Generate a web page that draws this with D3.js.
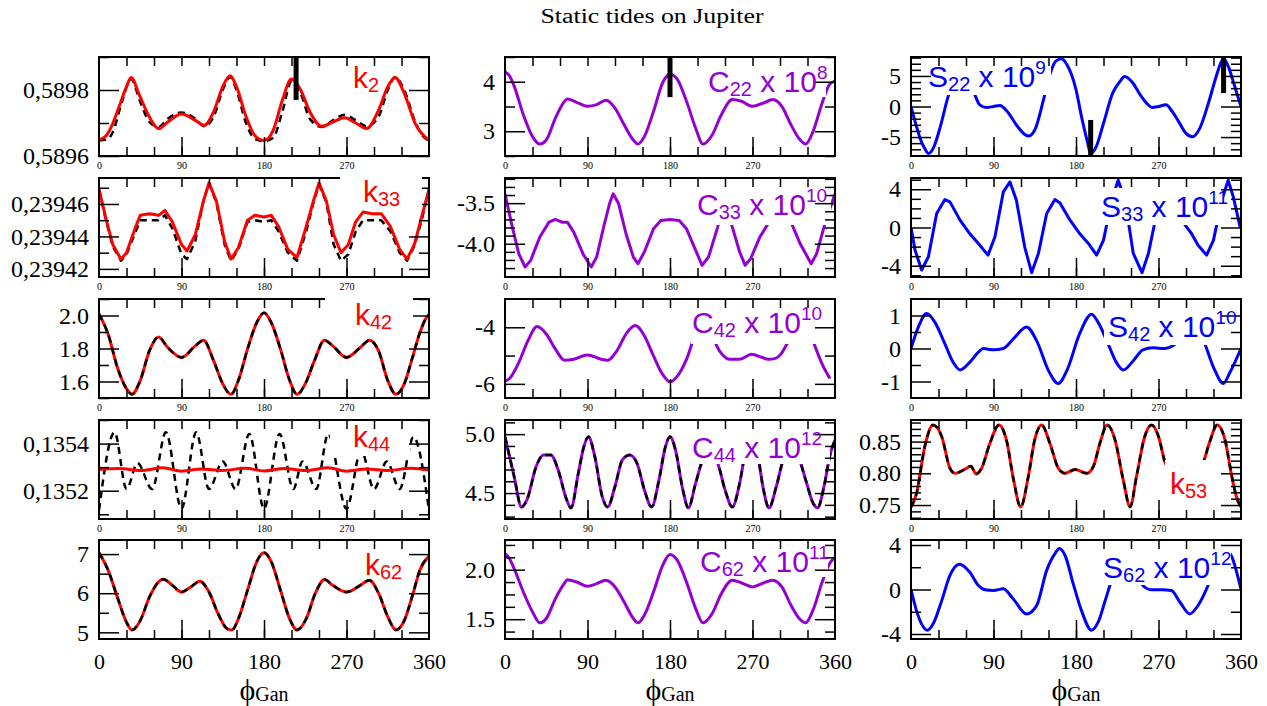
<!DOCTYPE html>
<html>
<head>
<meta charset="utf-8">
<script src="https://cdn.jsdelivr.net/npm/d3@7"></script>
<style>
  body { margin: 0; background: #fff; }
</style>
</head>
<body>
<svg width="1267" height="706"></svg>
<script>
// ---- data: [phi_Gan (deg), value] ----
const k2Model = [[0,0.589649],[8,0.589662],[15,0.589698],[22.5,0.589754],[30,0.58981],[35,0.589838],[44,0.589785],[55,0.589718],[65,0.589683],[75,0.589703],[90,0.589727],[105,0.589708],[115,0.589693],[125,0.589734],[135,0.58981],[143,0.589843],[150,0.58981],[160,0.589723],[170,0.589662],[180,0.589647],[190,0.589678],[200,0.589769],[210,0.589833],[220,0.5898],[230,0.589734],[243,0.58969],[255,0.589703],[268,0.589716],[280,0.5897],[292,0.589683],[305,0.589739],[315,0.58981],[323,0.589838],[333,0.58979],[345,0.589698],[360,0.589647]];
const k2Ref = [[0,0.589647],[10,0.589652],[15,0.589672],[25,0.589764],[35,0.589833],[45,0.589764],[55,0.589703],[65,0.589688],[75,0.589713],[90,0.589732],[105,0.589713],[115,0.58969],[125,0.589719],[135,0.5898],[143,0.589839],[150,0.5898],[160,0.589703],[170,0.589652],[180,0.589645],[190,0.589655],[200,0.589734],[210,0.589826],[220,0.58979],[230,0.589713],[243,0.589688],[255,0.589708],[268,0.589725],[280,0.589708],[292,0.58969],[305,0.589719],[315,0.5898],[323,0.589839],[333,0.5898],[345,0.589703],[352,0.589665],[360,0.589647]];
const k33Model = [[0,0.239469],[8,0.23945],[15,0.239435],[24,0.239426],[30,0.23943],[40,0.239446],[45,0.239453],[55,0.239454],[65,0.239453],[72,0.239456],[80,0.239449],[90,0.239435],[96,0.239431],[105,0.239441],[114,0.239462],[120,0.239473],[128,0.239462],[137,0.239437],[144,0.239426],[152,0.239433],[162,0.23945],[170,0.239453],[180,0.239452],[188,0.239453],[196,0.239446],[206,0.239432],[216,0.239427],[226,0.239446],[234,0.239462],[240,0.239473],[248,0.239462],[256,0.239441],[264,0.23943],[272,0.239435],[280,0.239449],[288,0.239455],[298,0.239454],[308,0.239454],[318,0.239446],[328,0.239432],[336,0.239426],[344,0.239435],[352,0.239452],[360,0.239469]];
const k33Ref = [[0,0.239469],[8,0.239449],[15,0.239434],[24,0.239425],[30,0.239429],[40,0.239443],[45,0.23945],[55,0.23945],[65,0.23945],[72,0.239453],[80,0.239445],[90,0.239429],[96,0.239426],[105,0.239437],[114,0.239462],[120,0.239473],[128,0.239461],[137,0.239435],[144,0.239425],[152,0.239432],[162,0.239449],[170,0.23945],[180,0.239449],[188,0.23945],[196,0.239443],[206,0.23943],[216,0.239425],[226,0.239443],[234,0.239461],[240,0.239472],[248,0.239461],[256,0.239435],[264,0.239425],[272,0.239429],[280,0.239443],[288,0.23945],[298,0.23945],[308,0.23945],[318,0.239443],[328,0.23943],[336,0.239425],[344,0.239434],[352,0.23945],[360,0.239469]];
const k42 = [[0,2.01],[10,1.886],[20,1.686],[30,1.556],[36,1.522],[45,1.606],[55,1.786],[65,1.87],[75,1.806],[90,1.746],[105,1.816],[114,1.85],[125,1.726],[135,1.586],[144,1.522],[152,1.606],[162,1.796],[172,1.956],[180,2.016],[188,1.956],[198,1.796],[208,1.606],[216,1.522],[225,1.586],[235,1.726],[246,1.85],[255,1.816],[270,1.746],[285,1.806],[295,1.85],[305,1.786],[315,1.606],[324,1.522],[333,1.586],[342,1.746],[350,1.896],[357,1.986],[360,2.006]];
const k44Model = [[0,0.13529],[22,0.135294],[45,0.135286],[70,0.135297],[90,0.135283],[112,0.135292],[135,0.135286],[160,0.135295],[180,0.135284],[202,0.135294],[225,0.135286],[250,0.135297],[270,0.135283],[292,0.135292],[315,0.135286],[340,0.135295],[360,0.135288]];
const k44Ref = [[0,0.135117],[17,0.135448],[30,0.135207],[42,0.135317],[58,0.135207],[73,0.135448],[90,0.135124],[106,0.135448],[120,0.135207],[135,0.135324],[149,0.135207],[164,0.135441],[180,0.135124],[197,0.135441],[212,0.135207],[222,0.135324],[237,0.135207],[250,0.135441],[270,0.135124],[286,0.135372],[300,0.135207],[314,0.135324],[328,0.135207],[343,0.135428],[360,0.135117]];
const k62 = [[0,7.034],[10,6.588],[20,5.901],[30,5.258],[36,5.06],[45,5.3],[55,5.9],[65,6.288],[70,6.356],[80,6.202],[90,6.03],[100,6.159],[110,6.305],[120,6.03],[130,5.472],[140,5.086],[145,5.06],[152,5.343],[162,6.073],[172,6.803],[180,7.034],[188,6.803],[198,6.073],[208,5.343],[216,5.06],[226,5.343],[236,6.0],[246,6.348],[255,6.202],[270,6.03],[285,6.202],[295,6.33],[305,6.0],[315,5.4],[324,5.06],[333,5.3],[342,5.944],[350,6.588],[360,6.95]];
const c22 = [[0,4.204],[5,4.116],[10,3.912],[20,3.333],[30,2.891],[38,2.741],[45,2.823],[55,3.265],[65,3.605],[68,3.653],[78,3.585],[90,3.503],[100,3.537],[110,3.626],[120,3.469],[130,3.129],[140,2.823],[145,2.741],[152,2.891],[162,3.401],[172,3.98],[180,4.15],[188,4.048],[198,3.605],[208,3.061],[216,2.741],[226,2.925],[236,3.333],[248,3.639],[258,3.605],[270,3.503],[282,3.571],[292,3.639],[302,3.503],[312,3.129],[322,2.823],[328,2.741],[336,2.993],[346,3.571],[354,3.946],[360,4.01]];
const c33 = [[0,-3.385],[8,-3.795],[15,-4.123],[22,-4.287],[28,-4.205],[38,-3.918],[48,-3.734],[55,-3.701],[62,-3.734],[68,-3.734],[75,-3.857],[85,-4.123],[94,-4.287],[100,-4.164],[108,-3.775],[114,-3.508],[118,-3.385],[124,-3.508],[132,-3.877],[140,-4.164],[145,-4.246],[152,-4.102],[162,-3.816],[170,-3.713],[180,-3.701],[190,-3.713],[198,-3.816],[208,-4.082],[215,-4.266],[222,-4.164],[232,-3.795],[240,-3.45],[248,-3.795],[256,-4.102],[262,-4.266],[268,-4.184],[278,-3.918],[288,-3.734],[300,-3.701],[312,-3.734],[322,-4.0],[334,-4.246],[340,-4.123],[350,-3.713],[360,-3.385]];
const c42 = [[0,-5.905],[5,-5.81],[15,-5.25],[25,-4.476],[35,-3.976],[45,-4.238],[55,-4.774],[65,-5.167],[75,-5.131],[90,-4.976],[105,-5.131],[112,-5.167],[122,-4.833],[132,-4.238],[142,-3.94],[152,-4.298],[162,-5.012],[172,-5.667],[180,-5.929],[188,-5.726],[198,-5.131],[208,-4.238],[218,-3.94],[226,-4.2],[231,-4.655],[238,-5.0],[245,-5.131],[256,-5.131],[269,-4.952],[280,-5.06],[287,-5.131],[295,-5.1],[301,-4.95],[306.5,-4.655],[315,-4.2],[325,-3.95],[333,-4.2],[338,-4.655],[346,-5.3],[354.5,-5.81]];
const c44 = [[0,4.978],[10,4.64],[18,4.382],[24,4.444],[34,4.725],[42,4.823],[50,4.823],[58,4.697],[66,4.472],[72,4.374],[80,4.669],[86,4.893],[91,4.978],[98,4.809],[106,4.472],[112,4.382],[120,4.556],[128,4.781],[136,4.823],[144,4.753],[152,4.528],[160,4.382],[168,4.612],[175,4.893],[180,4.978],[186,4.865],[194,4.528],[200,4.374],[208,4.584],[216,4.781],[224,4.823],[232,4.753],[240,4.528],[248,4.382],[256,4.584],[262,4.837],[269,4.978],[276,4.809],[282,4.528],[288,4.374],[296,4.556],[304,4.781],[312,4.823],[320,4.795],[328,4.612],[336,4.416],[341,4.374],[348,4.556],[355,4.837],[360,4.949]];
const c62 = [[0,2.161],[5,2.111],[10,2.01],[20,1.775],[30,1.574],[38,1.463],[45,1.507],[55,1.708],[65,1.866],[68,1.899],[78,1.876],[90,1.832],[100,1.859],[110,1.893],[120,1.826],[130,1.674],[140,1.507],[145,1.463],[152,1.54],[162,1.775],[172,2.044],[180,2.154],[188,2.094],[198,1.876],[208,1.607],[216,1.463],[226,1.557],[236,1.758],[248,1.893],[258,1.866],[270,1.826],[282,1.866],[292,1.893],[302,1.826],[312,1.641],[322,1.497],[328,1.463],[336,1.591],[346,1.876],[354,2.06],[360,2.128]];
const s22 = [[0,0],[5,-2.75],[10,-5.22],[15,-6.87],[19,-7.69],[25,-6.59],[32,-3.3],[40,1.37],[46,3.9],[53,4.95],[60,4.4],[68,2.47],[75,0.27],[82,-0.16],[90,0],[97,0.16],[105,-0.82],[115,-3.02],[125,-4.67],[128,-4.84],[135,-3.85],[145,1.37],[152,5.49],[158,7.42],[164,7.8],[170,6.87],[180,2.75],[186,-1.65],[192,-5.49],[196,-7.69],[202,-6.59],[210,-2.75],[220,2.2],[228,4.12],[233,4.9],[242,3.85],[250,1.92],[258,0.38],[263,-0.16],[270,0],[278,0.27],[285,-0.82],[292,-2.47],[300,-4.4],[307,-4.95],[315,-3.57],[325,0.82],[333,4.95],[338,7.14],[341,7.8],[346,6.59],[352,3.85],[360,0]];
const s33 = [[0,0],[4.4,-2.37],[11.6,-4.45],[19,-3.06],[28,1.46],[37,2.92],[42.5,2.68],[53.5,0.77],[64,-0.63],[73.5,-1.67],[84,-2.89],[91.6,-0.97],[100.7,3.72],[108,4.77],[115,2.85],[124,-2.02],[131.6,-4.73],[139,-2.71],[148,1.46],[157,2.92],[162.5,2.57],[173.5,0.77],[184,-0.63],[193.5,-1.67],[202.5,-2.89],[210,-1.32],[219,2.85],[226,4.94],[233.5,2.85],[242.5,-2.71],[252,-4.73],[259,-2.71],[268,1.46],[275,2.85],[284,2.5],[295,0.77],[306,-0.63],[313,-1.84],[322.5,-2.89],[330,-1.32],[339,2.85],[346,4.94],[351.6,3.2],[359,0.07],[360,0]];
const s42 = [[0,0],[8,0.65],[17,1.06],[26,0.8],[37,0.14],[46,-0.42],[53.5,-0.65],[64,-0.42],[73.5,-0.11],[79,0],[90,-0.04],[100.7,0],[111.6,0.29],[126,0.65],[137,0.24],[150,-0.67],[160.7,-1.06],[170,-0.67],[184,0.45],[197,1.04],[204,0.8],[215,0.14],[224,-0.42],[231.6,-0.65],[242.5,-0.37],[253,-0.04],[264,0.02],[277,0],[286,0.09],[296,0.42],[306.5,0.65],[313,0.5],[319,0.24],[330,-0.57],[340.7,-1.06],[348,-0.72],[360,0]];
const k53 = [[0,0.747],[6,0.768],[15,0.842],[24,0.876],[33.5,0.858],[42.5,0.808],[48,0.8],[57,0.805],[65.5,0.811],[71,0.799],[77,0.808],[86,0.847],[96,0.876],[104,0.853],[112,0.789],[119.6,0.747],[128,0.795],[135,0.853],[142.5,0.876],[151.6,0.847],[160.7,0.808],[168,0.8],[179,0.806],[191.6,0.8],[199,0.811],[206,0.847],[214,0.876],[222.5,0.853],[231.6,0.789],[239,0.747],[246,0.795],[255,0.858],[262.5,0.876],[270,0.858],[277,0.818],[284,0.801],[290,0.808],[297,0.802],[304,0.805],[312,0.8],[319,0.818],[326,0.85],[334,0.876],[342.5,0.853],[350,0.795],[355,0.763],[360,0.747]];
const s62 = [[0,0],[6,-1.9],[11.6,-3.11],[18,-3.66],[24,-3.11],[33.5,-1.0],[42.5,1.27],[52.7,2.27],[64,1.57],[73.5,0.36],[81,-0.03],[90,-0.09],[100.7,0.06],[111.6,-0.85],[126,-2.2],[137,-1.45],[148,1.72],[157,3.23],[161.8,3.69],[168,3.08],[177,0.51],[186,-1.9],[197,-3.66],[204,-2.96],[213,-0.69],[222,1.45],[234,2.2],[245,1.57],[253,0.36],[262.5,-0.03],[273.5,-0.03],[284,-0.09],[293.5,-1.15],[304,-2.2],[313,-1.45],[324,0.36],[335,2.93],[342.5,3.69],[350,2.93],[360,0]];

// thick black markers: [phi, from, to]
const k2Bars = [[215, 0.58977, 0.5899]];
const c22Bars = [[180, 3.69, 4.5]];
const s22Bars = [[196, -8.1, -2.2], [341, 2.2, 8.1]];

// ticks
const xMinorTicks = [30, 60, 90, 120, 150, 180, 210, 240, 270, 300, 330];
const xMajorTicks = [90, 180, 270];
const xSmallLabels = [0, 90, 180, 270];
const xBigLabels = [0, 90, 180, 270, 360];

const k2Ticks = [0.5896, 0.5898], k2Minor = [0.5897, 0.5899];
const k33Ticks = [0.23942, 0.23944, 0.23946], k33Minor = [0.23943, 0.23945, 0.23947];
const k42Ticks = [1.6, 1.8, 2.0], k42Minor = [1.5, 1.7, 1.9, 2.1];
const k44Ticks = [0.1352, 0.1354], k44Minor = [0.1351, 0.1353, 0.1355];
const k62Ticks = [5, 6, 7], k62Minor = [5.5, 6.5];
const c22Ticks = [3, 4], c22Minor = [2.5, 3.5, 4.5];
const c33Ticks = [-4.0, -3.5], c33Minor = [-4.4, -4.3, -4.2, -4.1, -3.9, -3.8, -3.7, -3.6, -3.4, -3.3, -3.2];
const c42Ticks = [-6, -4], c42Minor = [-5];
const c44Ticks = [4.5, 5.0], c44Minor = [4.3, 4.4, 4.6, 4.7, 4.8, 4.9, 5.1];
const c62Ticks = [1.5, 2.0], c62Minor = [1.375, 1.625, 1.75, 1.875, 2.125, 2.25];
const s22Ticks = [-5, 0, 5], s22Minor = [-8, -7, -6, -4, -3, -2, -1, 1, 2, 3, 4, 6, 7, 8];
const s33Ticks = [-4, 0, 4], s33Minor = [-5, -3, -2, -1, 1, 2, 3, 5];
const s42Ticks = [-1, 0, 1], s42Minor = [-0.5, 0.5];
const k53Ticks = [0.75, 0.80, 0.85], k53Minor = [0.73, 0.74, 0.76, 0.77, 0.78, 0.79, 0.81, 0.82, 0.83, 0.84, 0.86, 0.87, 0.88];
const s62Ticks = [-4, 0, 4], s62Minor = [-2, 2];

// ---- layout ----
const colLeft = [99, 505, 911];
const rowTop = [57, 178, 299, 420, 540];
const plotW = 330, plotH = 99;
const SERIF = "'Liberation Serif', 'Times New Roman', serif";
const SANS = "'Liberation Sans', Arial, sans-serif";
const RED = "#ff0000", VIOLET = "#9400d3", BLUE = "#0000ff";

const comma = (n) => (d) => d.toFixed(n).replace(".", ",");
const fixed = (n) => (d) => d.toFixed(n);

const solid = (data, color) => ({data, color, width: 3});
const dashed = (data) => ({data, color: "#000", width: 2.5, dash: "7,5"});

const panels = [
  {col: 0, row: 0, domain: [0.5896, 0.5899], ticks: k2Ticks, minor: k2Minor, fmt: comma(4),
    series: [dashed(k2Ref), solid(k2Model, RED)], bars: k2Bars,
    label: {x: 254, y: 31, color: RED, parts: [["k", 0], ["2", 1]]}},
  {col: 0, row: 1, domain: [0.239415, 0.239476], ticks: k33Ticks, minor: k33Minor, fmt: comma(5),
    series: [dashed(k33Ref), solid(k33Model, RED)], curve: d3.curveLinear,
    box: [241, -8, 323, 29], overFrame: true,
    label: {x: 264, y: 24, color: RED, parts: [["k", 0], ["33", 1]]}},
  {col: 0, row: 2, domain: [1.5, 2.1], ticks: k42Ticks, minor: k42Minor, fmt: fixed(1),
    series: [solid(k42, RED), dashed(k42)],
    box: [226, -7, 314, 28], overFrame: true,
    label: {x: 256, y: 26, color: RED, parts: [["k", 0], ["42", 1]]}},
  {col: 0, row: 3, domain: [0.13508, 0.1355], ticks: k44Ticks, minor: k44Minor, fmt: comma(4),
    series: [dashed(k44Ref), solid(k44Model, RED)],
    box: [231, 2, 311, 36],
    label: {x: 254, y: 27, color: RED, parts: [["k", 0], ["44", 1]]}},
  {col: 0, row: 4, domain: [4.83, 7.36], ticks: k62Ticks, minor: k62Minor, fmt: fixed(0),
    series: [solid(k62, RED), dashed(k62)],
    label: {x: 266, y: 35, color: RED, parts: [["k", 0], ["62", 1]]}},

  {col: 1, row: 0, domain: [2.5, 4.5], ticks: c22Ticks, minor: c22Minor, fmt: fixed(0),
    series: [solid(c22, VIOLET)], bars: c22Bars,
    box: [195, 5, 321, 40],
    label: {x: 203, y: 35, color: VIOLET, parts: [["C", 0], ["22", 1], [" x 10", 0], ["8", 2]]}},
  {col: 1, row: 1, domain: [-4.41, -3.19], ticks: c33Ticks, minor: c33Minor, fmt: fixed(1),
    series: [solid(c33, VIOLET)], curve: d3.curveLinear,
    box: [190, -1, 326, 47],
    label: {x: 192, y: 37, color: VIOLET, parts: [["C", 0], ["33", 1], [" x 10", 0], ["10", 2]]}},
  {col: 1, row: 2, domain: [-6.5, -3.0], ticks: c42Ticks, minor: c42Minor, fmt: fixed(0),
    series: [solid(c42, VIOLET)],
    box: [186, 1, 311, 45],
    label: {x: 187, y: 34, color: VIOLET, parts: [["C", 0], ["42", 1], [" x 10", 0], ["10", 2]]}},
  {col: 1, row: 3, domain: [4.28, 5.12], ticks: c44Ticks, minor: c44Minor, fmt: fixed(1),
    series: [solid(c44, VIOLET), dashed(c44)],
    box: [195, 1, 325, 44],
    label: {x: 187, y: 38, color: VIOLET, parts: [["C", 0], ["44", 1], [" x 10", 0], ["12", 2]]}},
  {col: 1, row: 4, domain: [1.3, 2.3], ticks: c62Ticks, minor: c62Minor, fmt: fixed(1),
    series: [solid(c62, VIOLET)],
    box: [192, 5, 323, 37],
    label: {x: 195, y: 32, color: VIOLET, parts: [["C", 0], ["62", 1], [" x 10", 0], ["11", 2]]}},

  {col: 2, row: 0, domain: [-8.1, 8.1], ticks: s22Ticks, minor: s22Minor, fmt: fixed(0),
    series: [solid(s22, BLUE)], bars: s22Bars,
    box: [13, 1, 140, 38],
    label: {x: 17, y: 30, color: BLUE, parts: [["S", 0], ["22", 1], [" x 10", 0], ["9", 2]]}},
  {col: 2, row: 1, domain: [-5.18, 5.18], ticks: s33Ticks, minor: s33Minor, fmt: fixed(0),
    series: [solid(s33, BLUE)], curve: d3.curveLinear,
    box: [189, 10, 312, 47],
    label: {x: 190, y: 39, color: BLUE, parts: [["S", 0], ["33", 1], [" x 10", 0], ["11", 2]]}},
  {col: 2, row: 2, domain: [-1.5, 1.5], ticks: s42Ticks, minor: s42Minor, fmt: fixed(0),
    series: [solid(s42, BLUE)],
    box: [193, 6, 317, 46],
    label: {x: 197, y: 38, color: BLUE, parts: [["S", 0], ["42", 1], [" x 10", 0], ["10", 2]]}},
  {col: 2, row: 3, domain: [0.728, 0.884], ticks: k53Ticks, minor: k53Minor, fmt: fixed(2),
    series: [solid(k53, RED), dashed(k53)],
    box: [254, 40, 299, 85],
    label: {x: 259, y: 74, color: RED, parts: [["k", 0], ["53", 1]]}},
  {col: 2, row: 4, domain: [-4.45, 4.45], ticks: s62Ticks, minor: s62Minor, fmt: fixed(0),
    series: [solid(s62, BLUE)],
    box: [196, 4, 320, 45],
    label: {x: 192, y: 38, color: BLUE, parts: [["S", 0], ["62", 1], [" x 10", 0], ["12", 2]]}},
];

const svg = d3.select("svg");

svg.append("text")
  .attr("x", 652).attr("y", 23)
  .attr("text-anchor", "middle")
  .attr("font-family", SERIF).attr("font-size", 20)
  .attr("textLength", 223).attr("lengthAdjust", "spacingAndGlyphs")
  .text("Static tides on Jupiter");

function styleAxis(g, size) {
  g.select(".domain").remove();
  g.selectAll(".tick line").attr("stroke-width", 1.5);
  g.attr("font-family", SERIF).attr("font-size", size);
}

panels.forEach((p, i) => {
  const g = svg.append("g")
    .attr("transform", `translate(${colLeft[p.col]},${rowTop[p.row]})`);
  const x = d3.scaleLinear().domain([0, 360]).range([0, plotW]);
  const y = d3.scaleLinear().domain(p.domain).range([plotH, 0]);

  g.append("clipPath").attr("id", "clip" + i)
    .append("rect").attr("width", plotW).attr("height", plotH);
  const plot = g.append("g").attr("clip-path", `url(#clip${i})`);

  p.series.forEach((s) => {
    const line = d3.line()
      .x((d) => x(d[0]))
      .y((d) => y(d[1]))
      .curve(p.curve || d3.curveMonotoneX);
    plot.append("path")
      .datum(s.data)
      .attr("fill", "none")
      .attr("stroke", s.color)
      .attr("stroke-width", s.width)
      .attr("stroke-dasharray", s.dash || null)
      .attr("stroke-linejoin", "round")
      .attr("d", line);
  });

  (p.bars || []).forEach((b) => {
    plot.append("rect")
      .attr("x", x(b[0]) - 2.5).attr("width", 5)
      .attr("y", y(b[2])).attr("height", y(b[1]) - y(b[2]))
      .attr("fill", "#000");
  });

  const drawBox = () => {
    const b = p.box;
    g.append("rect")
      .attr("x", b[0]).attr("y", b[1])
      .attr("width", b[2] - b[0]).attr("height", b[3] - b[1])
      .attr("fill", "#fff");
  };
  if (p.box && !p.overFrame) drawBox();

  // x ticks: bottom minor, bottom major, labels, top minor
  const last = p.row === rowTop.length - 1;
  g.append("g").attr("transform", `translate(0,${plotH})`)
    .call(d3.axisBottom(x).tickValues(xMinorTicks).tickSize(-9).tickFormat(""))
    .call((a) => styleAxis(a, 10));
  g.append("g").attr("transform", `translate(0,${plotH})`)
    .call(d3.axisBottom(x).tickValues(xMajorTicks).tickSize(-19).tickFormat(""))
    .call((a) => styleAxis(a, 10));
  g.append("g").attr("transform", `translate(0,${plotH})`)
    .call(d3.axisBottom(x).tickValues(last ? xBigLabels : xSmallLabels)
      .tickSize(0).tickPadding(last ? 14 : 5.5).tickFormat(d3.format("d")))
    .call((a) => styleAxis(a, last ? 22 : 10));
  g.append("g")
    .call(d3.axisTop(x).tickValues(xMinorTicks).tickSize(-9).tickFormat(""))
    .call((a) => styleAxis(a, 10));

  // y ticks left (with labels) and right
  g.append("g")
    .call(d3.axisLeft(y).tickValues(p.minor).tickSize(-10).tickFormat(""))
    .call((a) => styleAxis(a, 24));
  g.append("g")
    .call(d3.axisLeft(y).tickValues(p.ticks).tickSize(-20).tickPadding(10).tickFormat(p.fmt))
    .call((a) => styleAxis(a, 24));
  g.append("g").attr("transform", `translate(${plotW},0)`)
    .call(d3.axisRight(y).tickValues(p.minor).tickSize(-10).tickFormat(""))
    .call((a) => styleAxis(a, 24));
  g.append("g").attr("transform", `translate(${plotW},0)`)
    .call(d3.axisRight(y).tickValues(p.ticks).tickSize(-20).tickFormat(""))
    .call((a) => styleAxis(a, 24));

  g.append("rect")
    .attr("width", plotW).attr("height", plotH)
    .attr("fill", "none").attr("stroke", "#000").attr("stroke-width", 2);

  if (p.box && p.overFrame) drawBox();

  // panel label
  const t = g.append("text")
    .attr("x", p.label.x).attr("y", p.label.y)
    .attr("font-family", SANS).attr("font-size", 30)
    .attr("fill", p.label.color);
  let shift = 0;
  p.label.parts.forEach(([txt, kind]) => {
    const target = kind === 1 ? 4 : kind === 2 ? -13 : 0;
    t.append("tspan")
      .attr("dy", target - shift)
      .attr("font-size", kind === 0 ? 30 : kind === 1 ? 20 : 19)
      .text(txt);
    shift = target;
  });

  // x-axis title under the bottom row
  if (last) {
    const lt = g.append("text")
      .attr("x", plotW / 2).attr("y", 160)
      .attr("text-anchor", "middle")
      .attr("font-family", SERIF);
    lt.append("tspan").attr("font-size", 30).text("\u03D5");
    lt.append("tspan").attr("font-size", 20).attr("dy", 1).text("Gan");
  }
});
</script>
</body>
</html>
